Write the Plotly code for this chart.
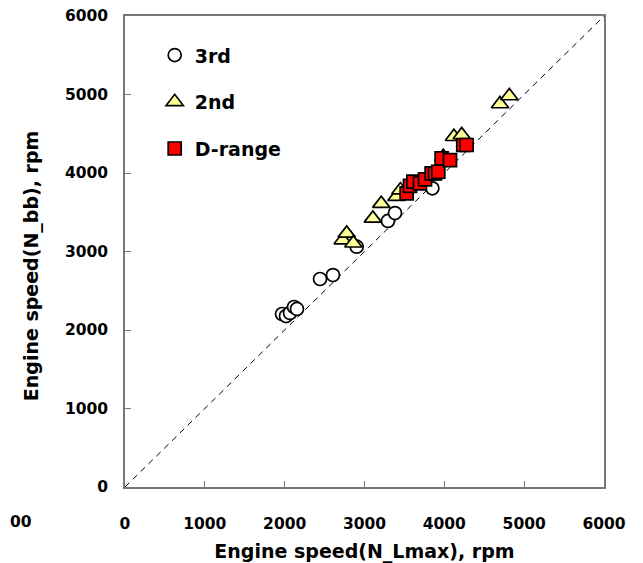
import plotly.graph_objects as go

# ---- data ----
third_x = [1967, 2017, 2067, 2117, 2154, 2443, 2605, 2902, 3294, 3382, 3850]
third_y = [2204, 2178, 2217, 2293, 2268, 2650, 2700, 3061, 3389, 3490, 3805]

second_x = [2727, 2777, 2860, 3105, 3210, 3400, 3450, 3987, 4120, 4218, 4697, 4814]
second_y = [3146, 3231, 3105, 3422, 3610, 3698, 3783, 4208, 4462, 4484, 4879, 4981]

drange_x = [3528, 3570, 3612, 3695, 3758, 3841, 3883, 3924, 3966, 4071, 4237, 4279]
drange_y = [3741, 3837, 3890, 3869, 3920, 3996, 3996, 4016, 4186, 4163, 4357, 4357]

axis_range = [0, 6000]
tick_vals = [0, 1000, 2000, 3000, 4000, 5000, 6000]

FONT = "DejaVu Sans"

fig = go.Figure()

# 1:1 reference line
fig.add_trace(go.Scatter(x=axis_range, y=axis_range, mode="lines",
                         line=dict(color="black", width=1, dash="6px,5px"),
                         showlegend=False, hoverinfo="skip"))

fig.add_trace(go.Scatter(x=third_x, y=third_y, mode="markers", name="3rd",
                         legendgroup="a",
                         marker=dict(symbol="circle", size=13, color="white",
                                     line=dict(color="black", width=1.7))))
fig.add_trace(go.Scatter(x=second_x, y=second_y, mode="markers", name="2nd",
                         legendgroup="b",
                         marker=dict(symbol="triangle-up", size=15, color="#FFFF99",
                                     line=dict(color="black", width=1.7))))
fig.add_trace(go.Scatter(x=drange_x, y=drange_y, mode="markers", name="D-range",
                         legendgroup="c",
                         marker=dict(symbol="square", size=13, color="#FF0000",
                                     line=dict(color="black", width=1.7))))

axis_common = dict(range=axis_range, tickvals=tick_vals, showgrid=False,
                   zeroline=False, showline=True, linecolor="#777777", linewidth=1.5,
                   mirror=True, ticks="inside", ticklen=6, tickcolor="#777777",
                   automargin=False, ticklabeloverflow="allow",
                   tickfont=dict(family=FONT, size=15.5, color="black", weight="bold"))

fig.update_xaxes(**axis_common, ticklabelstandoff=22,
                 title=dict(text="Engine speed(N_Lmax), rpm", standoff=12,
                            font=dict(family=FONT, size=19, color="black", weight="bold")))
fig.update_yaxes(**axis_common, ticklabelstandoff=12)

# y-axis title placed as an annotation so it sits where the reference has it
fig.add_annotation(text="Engine speed(N_bb), rpm", xref="paper", yref="paper",
                   x=-0.195, y=0.47, textangle=-90, showarrow=False,
                   xanchor="center", yanchor="middle",
                   font=dict(family=FONT, size=19, color="black", weight="bold"))

fig.add_annotation(text="00", xref="paper", yref="paper", x=-0.2443, y=-0.075,
                   xanchor="left", yanchor="middle", showarrow=False,
                   font=dict(family=FONT, size=15.5, color="black", weight="bold"))

fig.update_layout(
    width=635, height=555,
    margin=dict(l=117, r=39, t=8, b=76),
    plot_bgcolor="white", paper_bgcolor="white",
    legend=dict(x=0.062, y=0.957, xanchor="left", yanchor="top",
                bgcolor="rgba(0,0,0,0)", tracegroupgap=19,
                font=dict(family=FONT, size=19, color="black", weight="bold")),
)

fig.write_html("out.html")
